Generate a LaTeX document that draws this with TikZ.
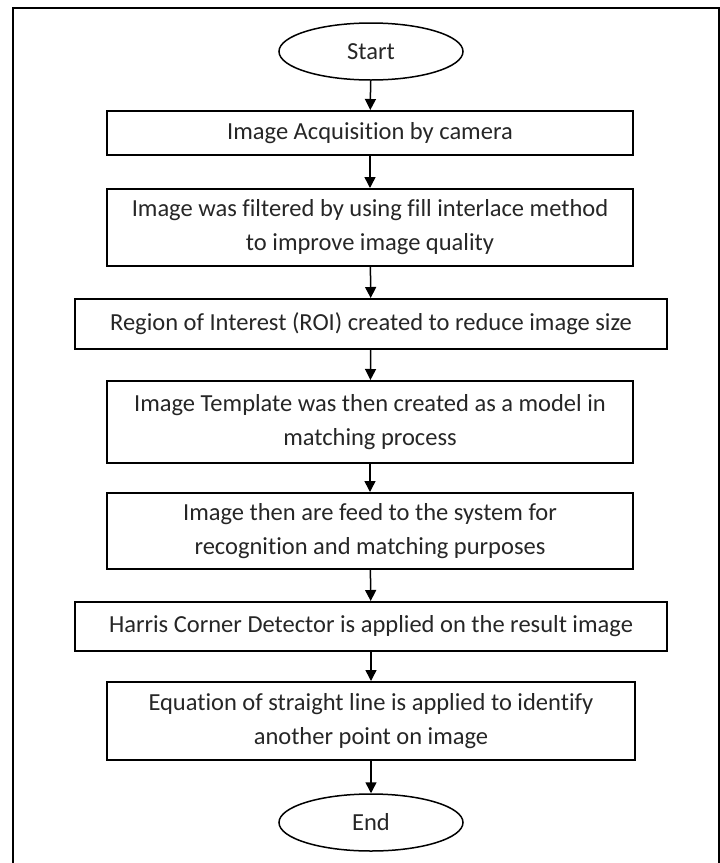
\documentclass[tikz,border=0pt]{standalone}
\usepackage{fontspec}
\setmainfont{Carlito}[Ligatures={NoCommon}]
\usetikzlibrary{shapes.geometric,arrows.meta}

\definecolor{inkgray}{HTML}{262626}
\newcommand{\flowfont}{\fontsize{24.5}{34}\selectfont}

\tikzset{
  terminal/.style={draw=black, line width=1.5pt, ellipse, inner sep=0pt,
    minimum width=184pt, minimum height=57pt, text=inkgray, font=\flowfont},
  stepbox/.style={draw=black, line width=2pt, rectangle, inner sep=0pt,
    minimum width=526pt, align=center, text=inkgray, font=\flowfont},
  widebox/.style={stepbox, minimum width=592pt},
  flow/.style={draw=black, line width=1.5pt, -{Triangle[length=11pt,width=11pt]}},
  frameline/.style={draw=black, line width=2.7pt}
}

\begin{document}
\begin{tikzpicture}[x=1pt, y=-1pt]
  \useasboundingbox (0,0) rectangle (720,863);

  % outer frame, open at the bottom
  \draw[frameline] (13,875) -- (13,8) -- (719,8) -- (719,875);

  % flow chart
  \node[terminal] (start) at (371,51.5) {Start};
  \node[stepbox, minimum height=44pt] (acq) at (370,133) {Image Acquisition by camera};
  \node[stepbox, minimum height=77pt] (filt) at (370,227.5)
    {Image was filtered by using fill interlace method\\to improve image quality};
  \node[widebox, minimum height=50pt] (roi) at (371,324)
    {Region of Interest (ROI) created to reduce image size};
  \node[stepbox, minimum height=82pt] (tmpl) at (370,422)
    {Image Template was then created as a model in\\matching process};
  \node[stepbox, minimum height=76pt] (feed) at (370,531)
    {Image then are feed to the system for\\recognition and matching purposes};
  \node[widebox, minimum height=49pt] (harris) at (371,626.5)
    {Harris Corner Detector is applied on the result image};
  \node[stepbox, minimum width=528pt, minimum height=78pt] (line) at (371,721)
    {Equation of straight line is applied to identify\\another point on image};
  \node[terminal] (end) at (371,822.5) {End};

  % connectors
  \draw[flow] (start) -- (acq);
  \draw[flow] (acq) -- (filt);
  \draw[flow] (filt) -- (roi);
  \draw[flow] (roi) -- (tmpl);
  \draw[flow] (tmpl) -- (feed);
  \draw[flow] (feed) -- (harris);
  \draw[flow] (harris) -- (line);
  \draw[flow] (line) -- (end);
\end{tikzpicture}
\end{document}
